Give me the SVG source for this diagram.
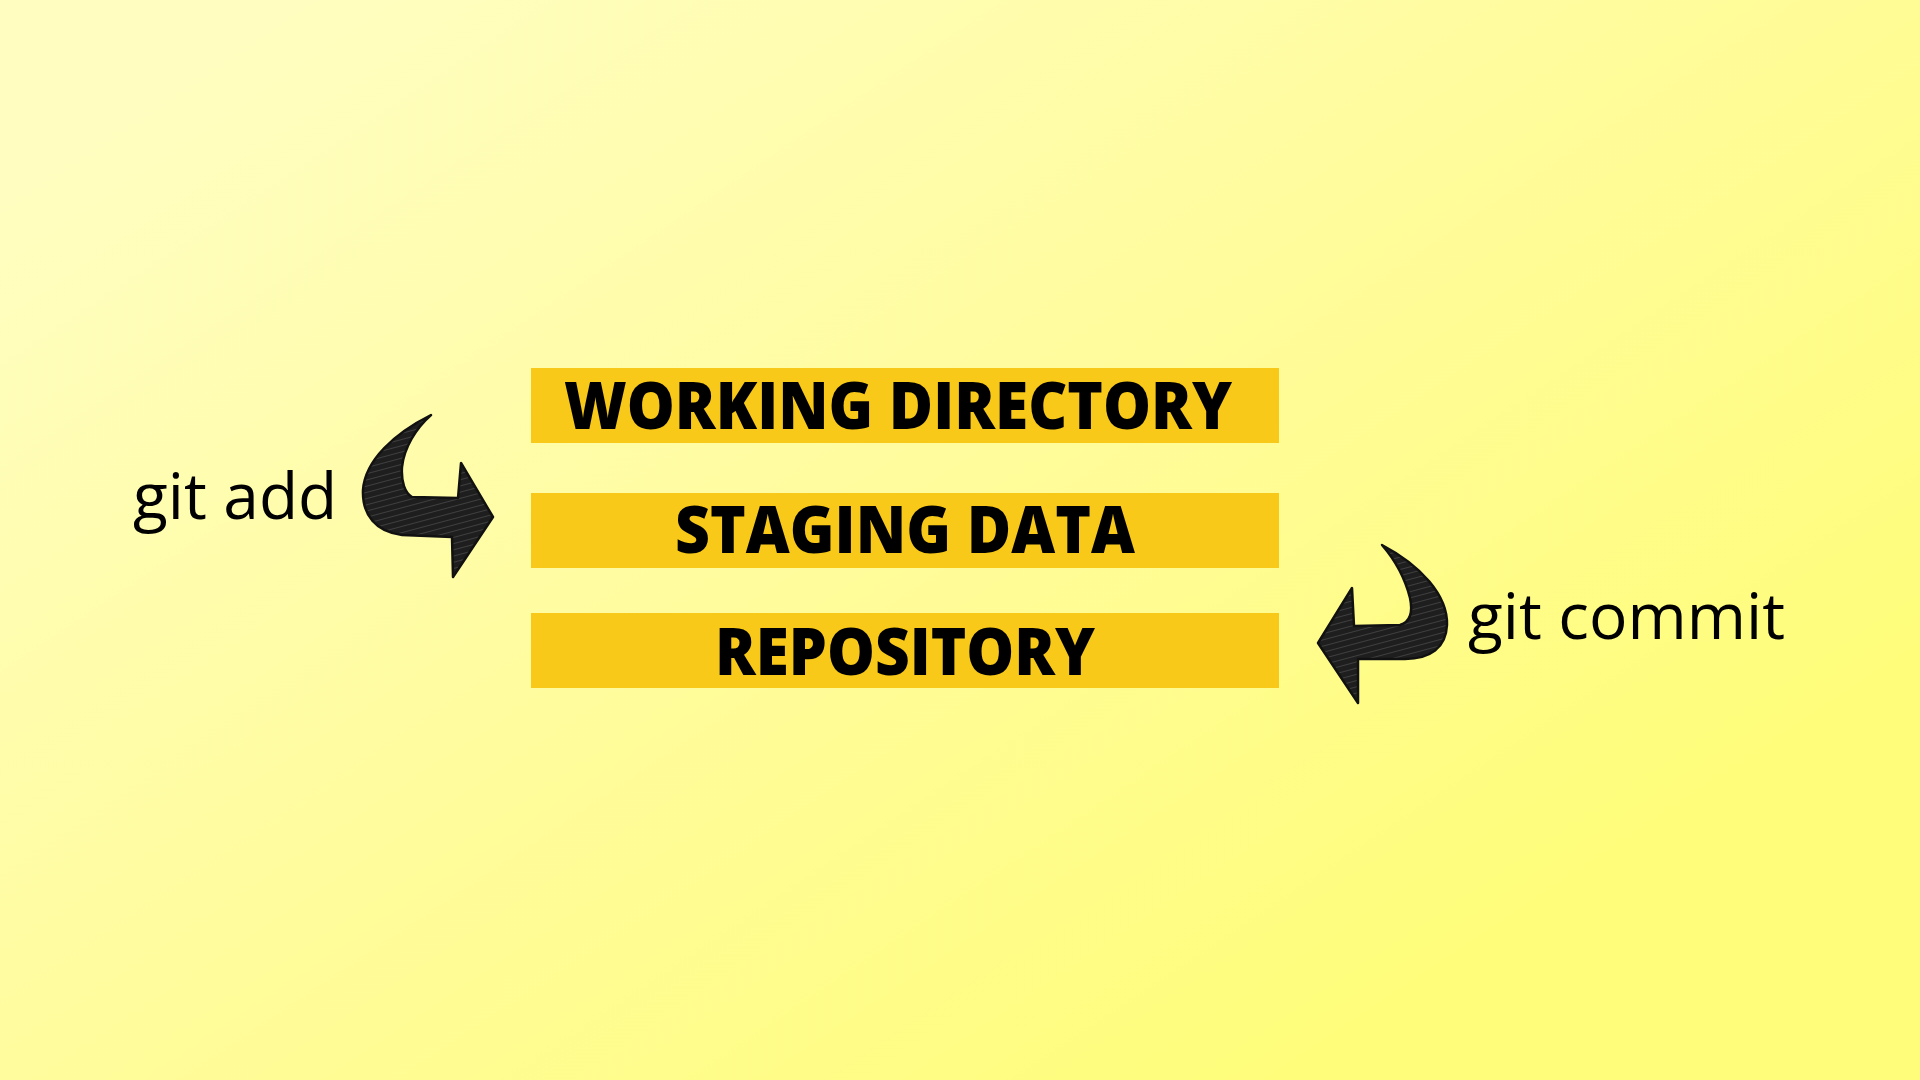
<svg xmlns="http://www.w3.org/2000/svg" width="1920" height="1080" viewBox="0 0 1920 1080">
<defs>
<linearGradient id="bg" x1="300" y1="0" x2="1100" y2="1200" gradientUnits="userSpaceOnUse">
<stop offset="0" stop-color="#fffec0"/>
<stop offset="0.5" stop-color="#fffc9e"/>
<stop offset="1" stop-color="#fffd7a"/>
</linearGradient>
<pattern id="hatch" width="6" height="6" patternUnits="userSpaceOnUse" patternTransform="rotate(75)">
<rect width="6" height="6" fill="#1e1e1e"/>
<line x1="0" y1="0" x2="0" y2="6" stroke="#555" stroke-width="1.2"/>
</pattern>
<style>
.bar{fill:#f8c918;}
.label{font-family:"Open Sans","Noto Sans",sans-serif;font-weight:800;font-size:65px;fill:#000;text-anchor:middle;}
.cmd{font-family:"Open Sans","Noto Sans",sans-serif;font-weight:400;font-size:64px;fill:#000;}
.arrow{fill:url(#hatch);stroke:#111;stroke-width:2.5;stroke-linejoin:round;}
</style>
</defs>
<rect width="1920" height="1080" fill="url(#bg)"/>
<g id="working-directory">
<rect class="bar" x="531" y="368" width="748" height="75"/>
<text class="label" x="898" y="429" textLength="668" lengthAdjust="spacingAndGlyphs">WORKING DIRECTORY</text>
</g>
<g id="staging-data">
<rect class="bar" x="531" y="493" width="748" height="75"/>
<text class="label" x="905" y="553" textLength="460" lengthAdjust="spacingAndGlyphs">STAGING DATA</text>
</g>
<g id="repository">
<rect class="bar" x="531" y="613" width="748" height="75"/>
<text class="label" x="905" y="675" textLength="380" lengthAdjust="spacingAndGlyphs">REPOSITORY</text>
</g>
<g id="connectors">
<g id="git-add">
<path class="arrow" d="M431,415 C395,433 365,460 363,490 C362,515 376,532 402,535 L452,537 L453,577 L493,517 L461,463 L458,498 L412,497 C405,493 401,482 402,467 C404,448 416,428 431,415 Z"/>
<text class="cmd" x="133" y="519">git add</text>
</g>
<g id="git-commit">
<path class="arrow" d="M1382,545 C1420,565 1448,595 1447,625 C1446,648 1430,659 1405,659 L1358,659 L1358,703 L1318,643 L1352,588 L1354,626 L1400,625 C1410,622 1413,612 1410,598 C1405,578 1395,560 1382,545 Z"/>
<text class="cmd" x="1468" y="639">git commit</text>
</g>
</g>
</svg>
